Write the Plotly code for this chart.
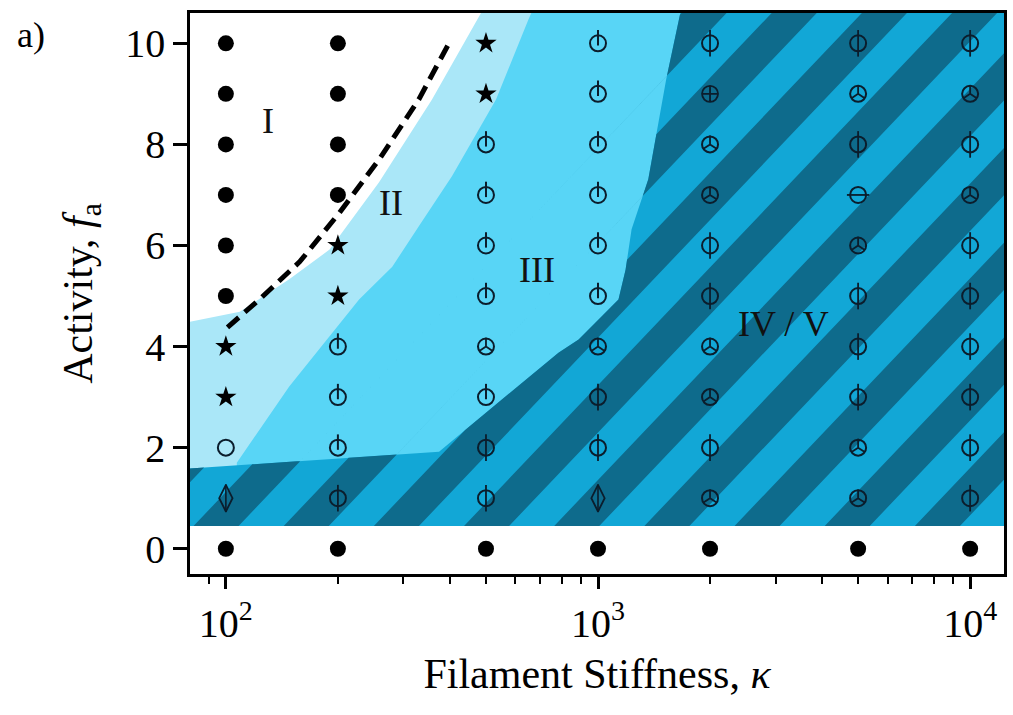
import math
import plotly.graph_objects as go

# ---------------------------------------------------------------- data
kappa = [100, 200, 500, 1000, 2000, 5000, 10000]
activity = [0, 1, 2, 3, 4, 5, 6, 7, 8, 9, 10]

# observed structure at each stiffness, listed from f_a = 0 up to f_a = 10
state_k100 = ["solid", "diamond", "ring", "star", "star", "solid", "solid", "solid", "solid", "solid", "solid"]
state_k200 = ["solid", "phi", "power", "power", "power", "star", "star", "solid", "solid", "solid", "solid"]
state_k500 = ["solid", "phi", "phi", "power", "merc", "power", "power", "power", "power", "star", "star"]
state_k1000 = ["solid", "diamond", "phi", "phi", "merc", "power", "power", "power", "power", "power", "power"]
state_k2000 = ["solid", "merc", "phi", "merc", "merc", "phi", "phi", "merc", "merc", "cross", "phi"]
state_k5000 = ["solid", "merc", "merc", "phi", "phi", "phi", "merc", "theta", "phi", "merc", "phi"]
state_k10000 = ["solid", "phi", "phi", "phi", "phi", "phi", "phi", "merc", "phi", "merc", "phi"]
state_columns = [state_k100, state_k200, state_k500, state_k1000,
                 state_k2000, state_k5000, state_k10000]

# lower edge of the active phases
fa_active_min = 0.45

# boundary I | II
b12_kappa = [70, 79, 109, 148, 190, 258, 358, 484, 520]
b12_fa = [4.47, 4.48, 4.69, 5.33, 5.92, 7.25, 8.89, 10.59, 11.0]

# boundary II | III
b23_kappa = [107, 148, 228, 280, 330, 405, 532, 651, 700]
b23_fa = [1.70, 3.21, 4.93, 5.58, 6.38, 7.37, 8.89, 10.48, 11.0]

# boundary III | IV/V
b3c_kappa = [70, 374, 783, 887, 1135, 1186, 1231, 1365, 1525, 1663, 1710]
b3c_fa = [1.56, 1.92, 3.88, 4.14, 4.93, 5.52, 6.32, 7.31, 9.29, 10.59, 11.0]

# dashed guide line between I and II
dash_kappa = [101, 123, 158, 202, 258, 330, 403]
dash_fa = [4.38, 4.93, 5.68, 6.65, 7.70, 8.89, 10.08]

region_labels = ["I", "II", "III", "IV / V"]
label_kappa = [130, 278, 684, 3150]
label_fa = [8.46, 6.85, 5.52, 4.44]

# ---------------------------------------------------------------- style
C_II = "#aae7f8"
C_III = "#58d5f6"
C_IV = "#12a7d6"
C_V = "#0e6b8c"
INK = "#0b1d2c"
FONT = "Liberation Serif"

K_LO, K_HI, F_TOP = 70, 14000, 11.0

# stripe pattern for the coexistence region, in (log10 kappa, f_a)
STRIPE_SLOPE = 7.74
STRIPE_PERIOD = 0.2423
STRIPE_WIDTH = 0.121
STRIPE_OFFSET = 1.855


def clip_half(poly, c, keep_above):
    """Sutherland-Hodgman clip against the line u - f/slope = c."""
    out = []
    n = len(poly)
    for i in range(n):
        p, q = poly[i], poly[(i + 1) % n]
        fp = p[0] - p[1] / STRIPE_SLOPE - c
        fq = q[0] - q[1] / STRIPE_SLOPE - c
        if not keep_above:
            fp, fq = -fp, -fq
        if fp >= 0:
            out.append(p)
        if (fp >= 0) != (fq >= 0):
            t = fp / (fp - fq)
            out.append((p[0] + t * (q[0] - p[0]), p[1] + t * (q[1] - p[1])))
    return out


fig = go.Figure()

# region II (everything above the active floor, right of the I boundary)
xs = [K_LO] + b12_kappa + [K_HI, K_HI, K_LO]
ys = [fa_active_min] + b12_fa + [F_TOP, fa_active_min, fa_active_min]
fig.add_trace(go.Scatter(x=xs, y=ys, fill="toself", fillcolor=C_II,
                         mode="lines", line=dict(width=0), hoverinfo="skip"))

# region III
xs = b23_kappa + [K_HI, K_HI, b23_kappa[0]]
ys = b23_fa + [F_TOP, fa_active_min, fa_active_min]
fig.add_trace(go.Scatter(x=xs, y=ys, fill="toself", fillcolor=C_III,
                         mode="lines", line=dict(width=0), hoverinfo="skip"))

# region IV/V base
iv_x = [K_LO] + b3c_kappa + [K_HI, K_HI]
iv_y = [fa_active_min] + b3c_fa + [F_TOP, fa_active_min]
fig.add_trace(go.Scatter(x=iv_x, y=iv_y, fill="toself", fillcolor=C_IV,
                         mode="lines", line=dict(width=0), hoverinfo="skip"))

# diagonal stripes clipped to region IV/V
poly_u = [(math.log10(k), f) for k, f in zip(iv_x, iv_y)]
sx, sy = [], []
for i in range(-8, 14):
    c0 = STRIPE_OFFSET + i * STRIPE_PERIOD
    piece = clip_half(poly_u, c0, True)
    if len(piece) < 3:
        continue
    piece = clip_half(piece, c0 + STRIPE_WIDTH, False)
    if len(piece) < 3:
        continue
    for u, f in piece + [piece[0]]:
        sx.append(10 ** u)
        sy.append(f)
    sx.append(None)
    sy.append(None)
fig.add_trace(go.Scatter(x=sx, y=sy, fill="toself", fillcolor=C_V,
                         mode="lines", line=dict(width=0), hoverinfo="skip"))

# dashed guide
fig.add_trace(go.Scatter(x=dash_kappa, y=dash_fa, mode="lines",
                         line=dict(color="black", width=5, dash="15px,8px")))

# ---------------------------------------------------------------- markers
pts = {}
for k, col in zip(kappa, state_columns):
    for f, s in zip(activity, col):
        pts.setdefault(s, ([], []))
        pts[s][0].append(k)
        pts[s][1].append(f)


def mk(state, symbol, size, color=INK, lw=1.8, filled=False, yaxis="y"):
    if state not in pts:
        return
    x, y = pts[state]
    m = dict(symbol=symbol, size=size)
    if filled:
        m.update(color=color, line=dict(width=0))
    else:
        m.update(color=color, line=dict(color=color, width=lw))
    fig.add_trace(go.Scatter(x=x, y=y, mode="markers", marker=m,
                             yaxis=yaxis, hoverinfo="skip"))


mk("solid", "circle", 16, color="black", filled=True)
mk("star", "star", 16, color="black", filled=True)
mk("ring", "circle-open", 16, lw=2)
for s in ["power", "phi", "merc", "theta"]:
    mk(s, "circle-open", 16, lw=2)
mk("power", "line-ns-open", 11, lw=2, yaxis="y2")
mk("phi", "line-ns-open", 19, lw=1.8)
mk("merc", "y-up-open", 11, lw=1.8)
mk("theta", "line-ew-open", 16, lw=1.8)
mk("cross", "circle-cross-open", 16, lw=1.8)
mk("diamond", "diamond-tall-open", 19, lw=1.8)
mk("diamond", "line-ns-open", 20, lw=1.6)

# ---------------------------------------------------------------- text
for t, k, f in zip(region_labels, label_kappa, label_fa):
    fig.add_annotation(x=math.log10(k), y=f, text=t, showarrow=False,
                       font=dict(family=FONT, size=36, color="#111"))

fig.add_annotation(xref="paper", yref="paper", x=-0.215, y=1.0, text="a)",
                   showarrow=False, xanchor="left",
                   font=dict(family=FONT, size=36, color="black"))

YR = [-0.5, 10.6]
shift = 0.11

fig.update_layout(
    width=1013, height=715,
    margin=dict(l=190, r=6, t=13, b=141),
    paper_bgcolor="white", plot_bgcolor="white",
    showlegend=False,
    font=dict(family=FONT, color="black"),
    xaxis=dict(
        type="log", range=[1.9036, 4.091],
        tickvals=[100, 1000, 10000],
        ticktext=["10<sup>2</sup>", "10<sup>3</sup>", "10<sup>4</sup>"],
        ticks="outside", ticklen=12, tickwidth=2.5, tickcolor="black",
        tickfont=dict(family=FONT, size=40),
        minor=dict(ticks="outside", ticklen=7, tickwidth=1.8, tickcolor="black",
                   tickvals=[80, 90, 200, 300, 400, 500, 600, 700, 800, 900,
                             2000, 3000, 4000, 5000, 6000, 7000, 8000, 9000]),
        showline=True, linewidth=2.5, linecolor="black", mirror=True,
        showgrid=False, zeroline=False,
        title=dict(text="Filament Stiffness, <i>κ</i>",
                   font=dict(family=FONT, size=42), standoff=14),
    ),
    yaxis=dict(
        range=YR, tickvals=[0, 2, 4, 6, 8, 10],
        ticks="outside", ticklen=14, tickwidth=2.5, tickcolor="black",
        tickfont=dict(family=FONT, size=40),
        showline=True, linewidth=2.5, linecolor="black", mirror=True,
        showgrid=False, zeroline=False,
        title=dict(text="Activity, <i>f</i><sub>a</sub>",
                   font=dict(family=FONT, size=42), standoff=20),
    ),
    yaxis2=dict(range=[YR[0] - shift, YR[1] - shift], overlaying="y",
                visible=False, showgrid=False, zeroline=False),
)

fig.write_html("out.html")
